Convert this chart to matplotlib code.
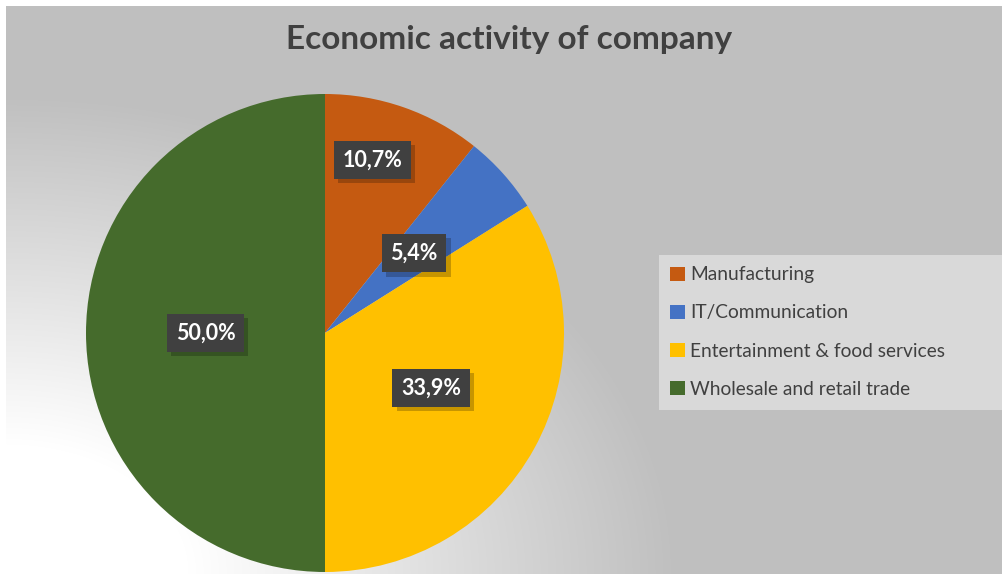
import numpy as np
import matplotlib.pyplot as plt
import matplotlib.patheffects as pe
from matplotlib.patches import Rectangle

plt.rcParams['font.family'] = ['Lato', 'DejaVu Sans']

# number of companies per sector
sectors = ['Manufacturing', 'IT/Communication',
           'Entertainment & food services', 'Wholesale and retail trade']
counts = [6, 3, 19, 28]
colors = ['#c55a11', '#4472c4', '#ffc000', '#456b2c']
# label placement: radial distance and angular nudge (deg) per slice
label_dist = [0.75, 0.50, 0.50, 0.50]
label_turn = [4, 0, 1.5, 0]

W, H = 1003, 574
fig = plt.figure(figsize=(W / 100, H / 100), dpi=100, facecolor='white')

# soft grey background, lighter towards the lower left corner
bg = fig.add_axes([6 / W, 0, (W - 6) / W, (H - 6) / H])
bg.set_axis_off()
yy, xx = np.mgrid[0:H - 6, 0:W - 6]
d = np.hypot(xx / 1.4, (H - 6) - yy)
t = np.clip((d - 130) / 350, 0, 1)
shade = 1.0 - (1.0 - 191 / 255) * t
bg.imshow(np.dstack([shade] * 3), aspect='auto', extent=[0, 1, 0, 1],
          origin='upper', interpolation='bilinear')
bg.set_xlim(0, 1)
bg.set_ylim(0, 1)

fig.text(509 / W, 1 - 40 / H, 'Economic activity of company',
         ha='center', va='center', fontsize=24, fontweight='bold',
         color='#404040')

# pie
cx, cy, r = 325, H - 333, 239
ax = fig.add_axes([(cx - r) / W, (cy - r) / H, 2 * r / W, 2 * r / H])
ax.set_axis_off()
wedges, _ = ax.pie(counts, colors=colors, startangle=90, counterclock=False,
                   radius=1, wedgeprops=dict(linewidth=0))
ax.set_xlim(-1, 1)
ax.set_ylim(-1, 1)
ax.set_aspect('equal')

total = sum(counts)
for w, c, dist, turn in zip(wedges, counts, label_dist, label_turn):
    ang = np.deg2rad((w.theta1 + w.theta2) / 2 + turn)
    x, y = dist * np.cos(ang), dist * np.sin(ang)
    txt = f'{100 * c / total:.1f}%'.replace('.', ',')
    lbl = ax.text(x, y, txt, ha='center', va='center', fontsize=15.5,
                  fontweight='bold', color='white',
                  bbox=dict(boxstyle='square,pad=0.4', fc='#404040', ec='none'))
    lbl.get_bbox_patch().set_path_effects(
        [pe.SimplePatchShadow(offset=(3, -3), shadow_rgbFace='black', alpha=0.22),
         pe.Normal()])

# legend with its own light panel
fig.patches.append(Rectangle((659 / W, 1 - 410 / H), (W - 659) / W, 155 / H,
                             transform=fig.transFigure, fc='#d9d9d9', ec='none',
                             zorder=1))
handles = [Rectangle((0, 0), 1, 1, fc=c, ec='none') for c in colors]
leg = fig.legend(handles, sectors, loc='upper left',
                 bbox_to_anchor=(655 / W, 1 - 251 / H), frameon=False,
                 fontsize=13.8, labelcolor='#404040', handlelength=0.75,
                 handleheight=0.75, handletextpad=0.3, labelspacing=1.1,
                 borderpad=0.3)

fig.savefig('out.png', dpi=100, facecolor='white')
